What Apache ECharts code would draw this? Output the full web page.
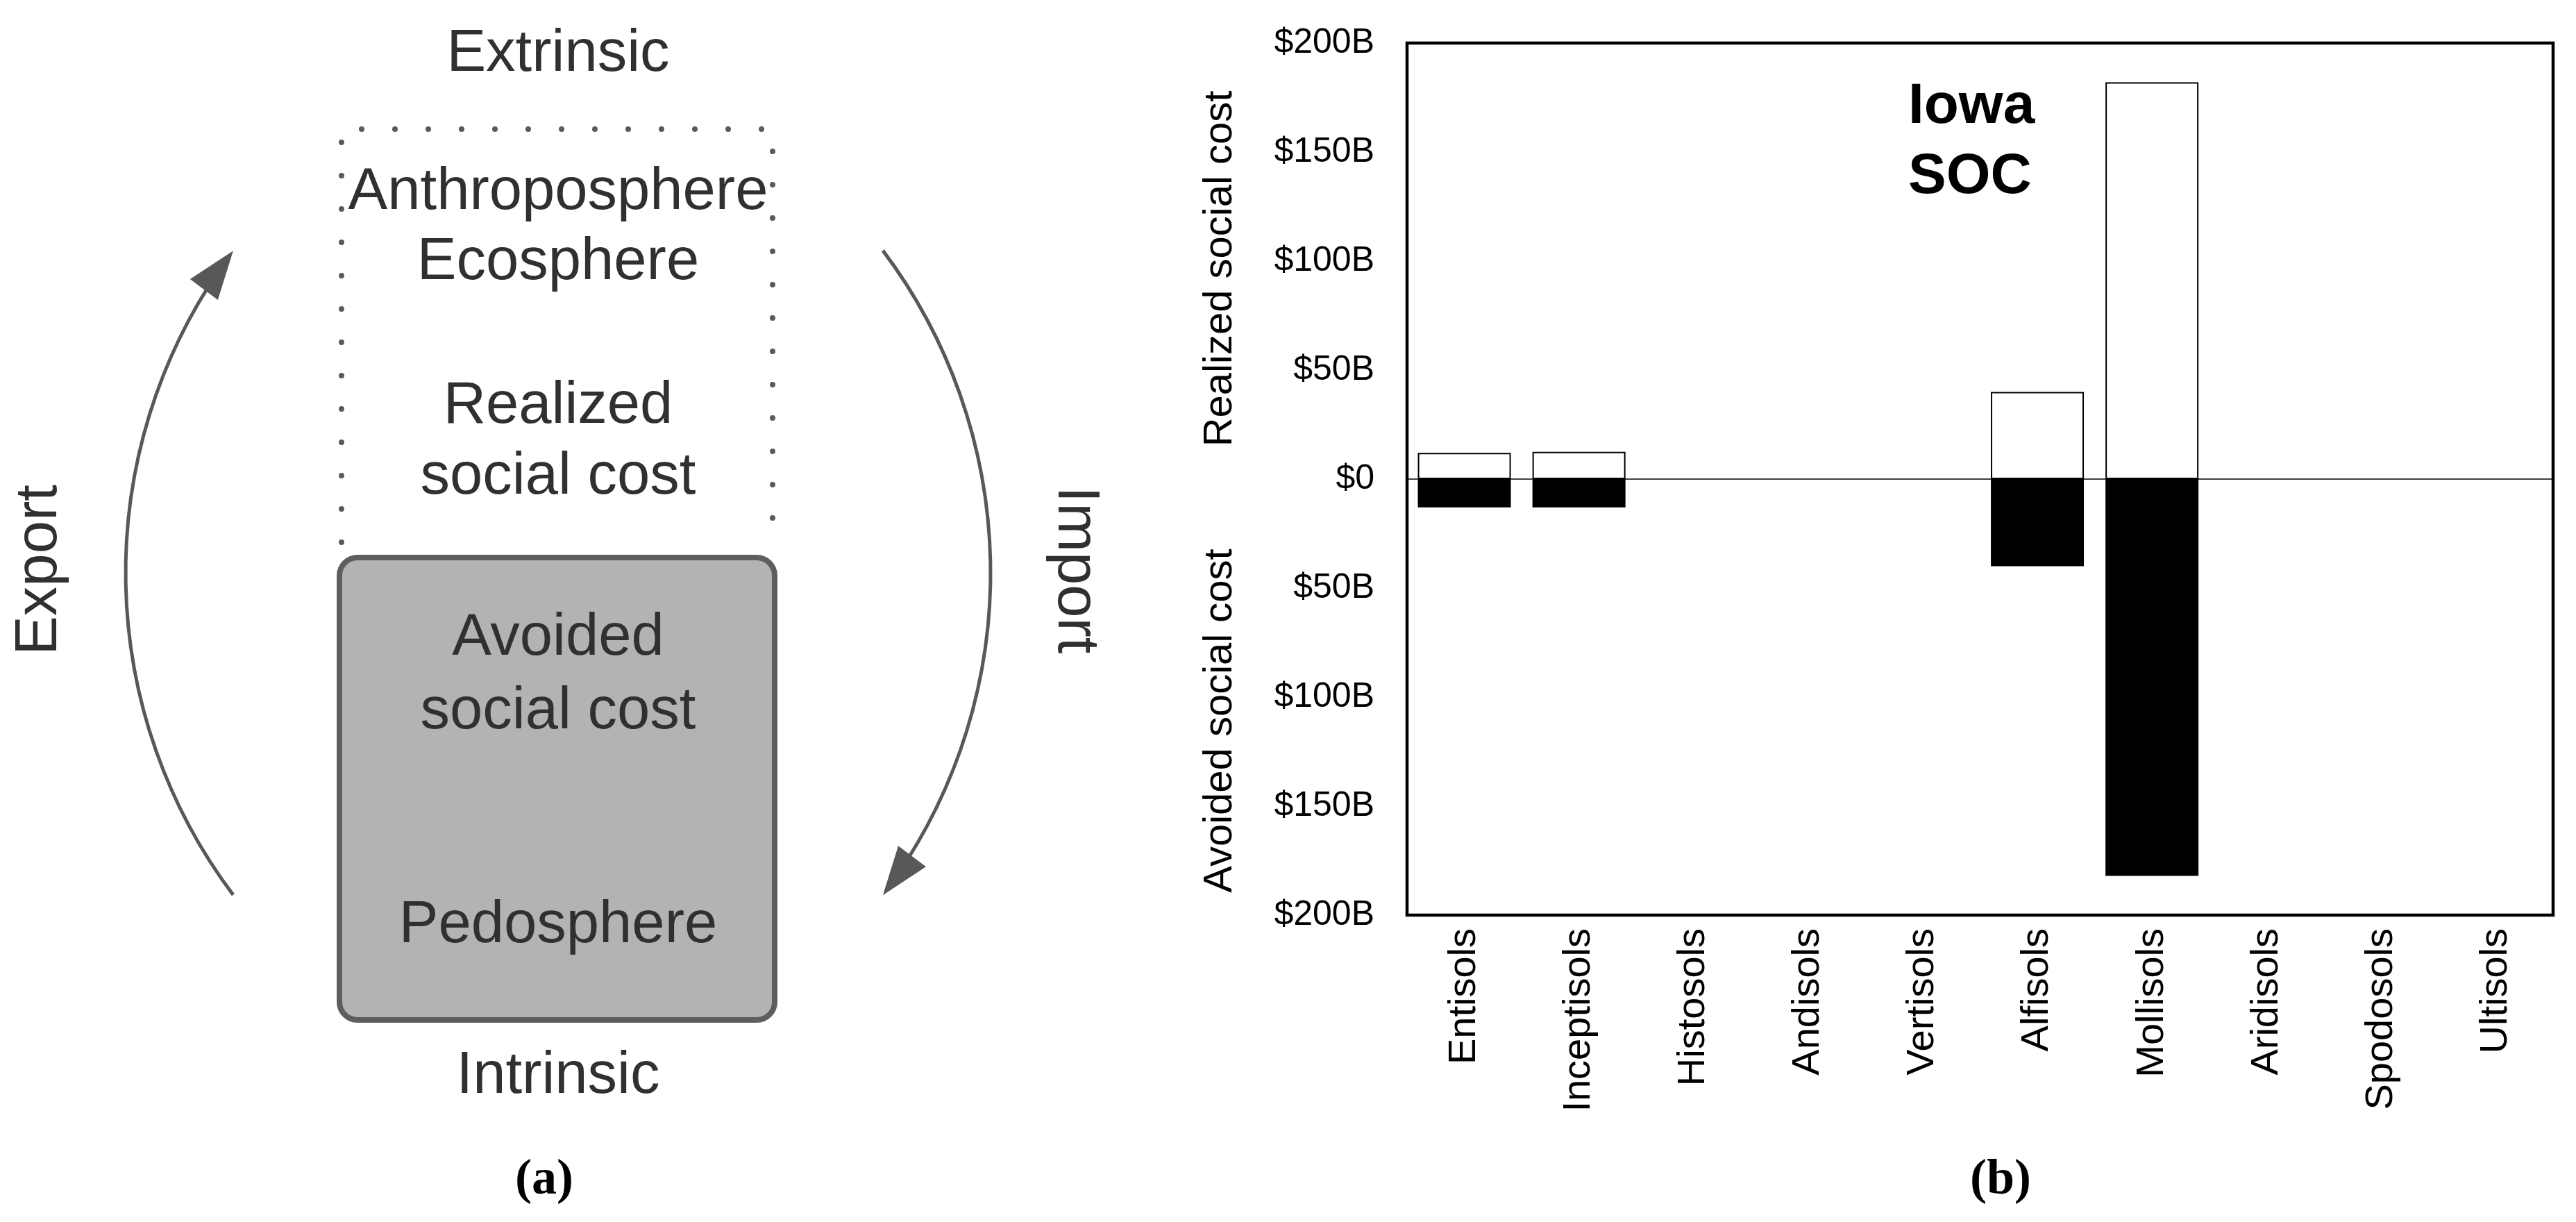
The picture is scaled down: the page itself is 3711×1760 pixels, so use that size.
<!DOCTYPE html>
<html>
<head>
<meta charset="utf-8">
<title>Iowa SOC social cost</title>
<script src="https://cdn.jsdelivr.net/npm/echarts@6/dist/echarts.min.js"></script>
<style>
  html, body { margin: 0; padding: 0; background: #fff; }
  #chart { width: 3711px; height: 1760px; }
</style>
</head>
<body>
<div id="chart"></div>
<script>
// soil orders on the x axis
const soilOrders = ['Entisols', 'Inceptisols', 'Histosols', 'Andisols', 'Vertisols',
  'Alfisols', 'Mollisols', 'Aridisols', 'Spodosols', 'Ultisols']
// realized social cost, $B (white bars, above zero)
const realizedCost = [12, 12.5, null, null, null, 40, 182, null, null, null]
// avoided social cost, $B (black bars, below zero)
const avoidedCost = [-13, -13, null, null, null, -40, -182, null, null, null]
// y axis ticks and their labels
const yTickValues = [-200, -150, -100, -50, 0, 50, 100, 150, 200]
const yTickLabels = ['$200B', '$150B', '$100B', '$50B', '$0', '$50B', '$100B', '$150B', '$200B']

const SANS = 'Liberation Sans, Arial, sans-serif'
const SERIF = 'Liberation Serif, Times New Roman, serif'
const GREY_TEXT = '#303030'

// left diagram (a) helpers
function label(text, x, y, size, opts) {
  return Object.assign({
    type: 'text',
    x: x,
    y: y,
    style: {
      text: text,
      font: (opts && opts.weight ? opts.weight + ' ' : '') + size + 'px ' + ((opts && opts.family) || SANS),
      fill: (opts && opts.color) || GREY_TEXT,
      align: 'center',
      verticalAlign: 'middle'
    }
  }, opts && opts.rotation !== undefined ? { rotation: opts.rotation } : {})
}

// arc + arrowhead at the end of the arc (clockwise travel)
function arcWithArrow(cx, cy, r, a0, a1) {
  const tipX = cx + r * Math.cos(a1)
  const tipY = cy + r * Math.sin(a1)
  const dx = -Math.sin(a1), dy = Math.cos(a1)
  const len = 70, half = 25
  const bx = tipX - len * dx, by = tipY - len * dy
  return [
    {
      type: 'arc',
      shape: { cx: cx, cy: cy, r: r, startAngle: a0, endAngle: a1 - 0.04, clockwise: true },
      style: { stroke: '#585858', lineWidth: 5, fill: null }
    },
    {
      type: 'polygon',
      shape: { points: [[tipX, tipY], [bx + half * dy, by - half * dx], [bx - half * dy, by + half * dx]] },
      style: { fill: '#585858' }
    }
  ]
}

const diagram = [
  label('Extrinsic', 804, 79, 85),
  {
    // dotted outline, open at the bottom
    type: 'polyline',
    shape: { points: [[492, 781], [492, 186], [1113, 186], [1113, 781]] },
    style: { stroke: '#5a5a5a', lineWidth: 8, lineDash: [0.01, 47.99], lineCap: 'round', fill: null }
  },
  label('Anthroposphere', 804, 278, 85),
  label('Ecosphere', 804, 379, 85),
  label('Realized', 804, 586, 85),
  label('social cost', 804, 688, 85),
  {
    type: 'rect',
    shape: { x: 489, y: 803, width: 627, height: 666, r: 26 },
    style: { fill: '#b3b3b3', stroke: '#5e5e5e', lineWidth: 8 }
  },
  label('Avoided', 804, 920, 85),
  label('social cost', 804, 1026, 85),
  label('Pedosphere', 804, 1334, 85),
  label('Intrinsic', 804, 1551, 85),
  label('Export', 58, 821, 85, { rotation: Math.PI / 2 }),
  label('Import', 1548, 821, 85, { rotation: -Math.PI / 2 }),
  label('(a)', 784, 1700, 72, { weight: 'bold', family: SERIF, color: '#000' })
]
  .concat(arcWithArrow(953, 825, 772, 2.497, 2 * Math.PI - 2.497))
  .concat(arcWithArrow(655, 825, 772, -0.645, 0.645))

const chartTexts = [
  label('Realized social cost', 1758, 387, 58, { rotation: Math.PI / 2, color: '#000' }),
  label('Avoided social cost', 1758, 1038, 58, { rotation: Math.PI / 2, color: '#000' }),
  {
    type: 'text', x: 2749, y: 154,
    style: { text: 'Iowa', font: 'bold 82px ' + SANS, fill: '#000', align: 'left', verticalAlign: 'middle' }
  },
  {
    type: 'text', x: 2749, y: 255,
    style: { text: 'SOC', font: 'bold 82px ' + SANS, fill: '#000', align: 'left', verticalAlign: 'middle' }
  },
  label('(b)', 2882, 1700, 72, { weight: 'bold', family: SERIF, color: '#000' })
]

const myChart = echarts.init(document.getElementById('chart'))
const option = {
  animation: false,
  backgroundColor: '#fff',
  grid: {
    left: 2027,
    top: 62,
    right: 33,
    bottom: 442,
    show: true,
    borderColor: '#000',
    borderWidth: 4.5
  },
  xAxis: {
    type: 'category',
    data: soilOrders,
    axisLine: { show: false },
    axisTick: { show: false },
    splitLine: { show: false },
    axisLabel: {
      rotate: 90,
      interval: 0,
      margin: 19,
      fontSize: 56,
      fontFamily: SANS,
      color: '#000'
    }
  },
  yAxis: {
    type: 'value',
    min: -200,
    max: 200,
    interval: 50,
    axisLine: { show: false },
    axisTick: { show: false },
    splitLine: { show: false },
    axisLabel: {
      margin: 47,
      fontSize: 50,
      fontFamily: SANS,
      color: '#000',
      padding: [16, 0, 0, 0],
      formatter: function (v) {
        const i = yTickValues.indexOf(v)
        return i >= 0 ? yTickLabels[i] : ''
      }
    }
  },
  series: [
    {
      name: 'Realized social cost',
      type: 'bar',
      data: realizedCost,
      barWidth: 134,
      barGap: '-100%',
      itemStyle: { color: '#fff', borderColor: '#000', borderWidth: 2 },
      markLine: {
        silent: true,
        symbol: ['none', 'none'],
        label: { show: false },
        lineStyle: { color: '#000', width: 1.5, type: 'solid' },
        data: [{ yAxis: 0 }]
      }
    },
    {
      name: 'Avoided social cost',
      type: 'bar',
      data: avoidedCost,
      barWidth: 134,
      barGap: '-100%',
      itemStyle: { color: '#000' }
    }
  ],
  graphic: diagram.concat(chartTexts)
}
myChart.setOption(option)
</script>
</body>
</html>
